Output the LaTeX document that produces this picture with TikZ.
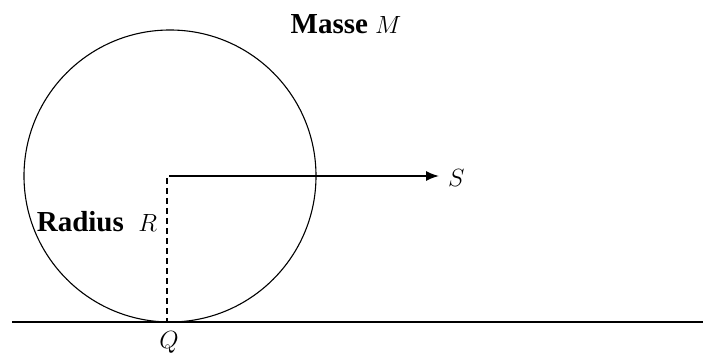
\documentclass[tikz,border=0pt]{standalone}
\usepackage{fontspec}
\setmainfont{Liberation Serif}
\usetikzlibrary{arrows.meta}
\begin{document}
\begin{tikzpicture}[x=1pt,y=-1pt,
  lbl/.style={inner sep=0pt, font=\fontsize{29}{32}\selectfont},
  thinline/.style={line width=1.1pt},
  thickline/.style={line width=1.6pt}]
\useasboundingbox (0,0) rectangle (703,363);
% ball
\coordinate (O) at (170,176);
\draw[thinline] (O) circle (146);
% ground
\coordinate (gl) at (12,322);
\coordinate (gr) at (703,322);
\draw[thinline] (gl) -- (gr);
% radius (dashed)
\coordinate (Rtop) at (167,178);
\coordinate (Qp) at (167,322);
\draw[thickline, dash pattern=on 6pt off 4pt] (Rtop) -- (Qp);
% arrow to S
\coordinate (As) at (169,176);
\node[lbl, anchor=west, outer sep=9pt] (S) at (439,178) {$S$};
\draw[thickline, -{Latex[length=13pt,width=10pt]}] (As) -- (As -| S.west);
% labels
\node[lbl] (Q) at (169,342) {$Q$};
\node[lbl] (masse) at (346,24) {\textbf{Masse} $M$};
\node[lbl] (radius) at (97,222) {\textbf{Radius}\ \ $R$};
\end{tikzpicture}
\end{document}
